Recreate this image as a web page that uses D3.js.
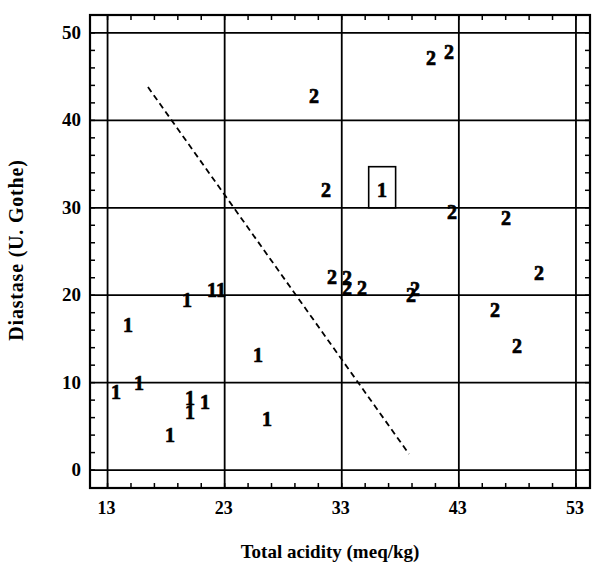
<!DOCTYPE html>
<html>
<head>
<meta charset="utf-8">
<script src="https://cdn.jsdelivr.net/npm/d3@7"></script>
<style>
  body { margin: 0; background: #fff; }
  text { font-family: "Liberation Serif", "DejaVu Serif", serif; font-weight: bold; fill: #000; }
</style>
</head>
<body>
<script>
var w = 594;
var h = 565;

// group 1 samples
var x1 = [14.75, 19.78, 21.92, 22.69, 25.85, 15.68, 13.72, 20.04, 20.04, 21.32, 18.33, 26.62, 36.44];
var y1 = [16.59, 19.45, 20.6, 20.6, 13.16, 9.96, 8.93, 8.24, 6.64, 7.79, 4.01, 5.84, 32.03];

// group 2 samples
var x2 = [30.63, 40.62, 42.16, 31.65, 42.41, 47.03, 49.84, 32.17, 33.45, 33.45, 34.73, 38.91, 39.25, 46.09, 47.97];
var y2 = [42.78, 47.13, 47.82, 32.03, 29.52, 28.83, 22.54, 22.08, 21.97, 20.83, 20.83, 20.02, 20.71, 18.31, 14.19];

// the boxed sample (x range, y range)
var boxX = [35.3, 37.6];
var boxY = [30.0, 34.7];

// dashed separating line
var lineX = [16.45, 38.74];
var lineY = [43.81, 1.84];

var xTicks = [13, 23, 33, 43, 53];
var yTicks = [0, 10, 20, 30, 40, 50];
var xMinor = d3.range(13, 54, 2);
var yMinor = d3.range(0, 52, 2);

var x = d3.scaleLinear().domain([11.5, 54.2]).range([90, 590]);
var y = d3.scaleLinear().domain([-2.05, 52.05]).range([488, 15]);

var svg = d3.select("body")
            .append("svg")
              .attr("width", w)
              .attr("height", h);

// grid lines
svg.selectAll("line.gx")
   .data(xTicks)
   .enter()
   .append("line")
     .attr("x1", function(d) { return x(d); })
     .attr("x2", function(d) { return x(d); })
     .attr("y1", y(-2.05))
     .attr("y2", y(52.05))
     .attr("stroke", "#000")
     .attr("stroke-width", 1.8);

svg.selectAll("line.gy")
   .data(yTicks)
   .enter()
   .append("line")
     .attr("x1", x(11.5))
     .attr("x2", x(54.2))
     .attr("y1", function(d) { return y(d); })
     .attr("y2", function(d) { return y(d); })
     .attr("stroke", "#000")
     .attr("stroke-width", 1.8);

// minor ticks, pointing inward on all four sides
var tl = 5;
xMinor.forEach(function(d) {
  svg.append("line").attr("x1", x(d)).attr("x2", x(d)).attr("y1", y(-2.05)).attr("y2", y(-2.05) - tl)
     .attr("stroke", "#000").attr("stroke-width", 1.5);
  svg.append("line").attr("x1", x(d)).attr("x2", x(d)).attr("y1", y(52.05)).attr("y2", y(52.05) + tl)
     .attr("stroke", "#000").attr("stroke-width", 1.5);
});
yMinor.forEach(function(d) {
  svg.append("line").attr("x1", x(11.5)).attr("x2", x(11.5) + tl).attr("y1", y(d)).attr("y2", y(d))
     .attr("stroke", "#000").attr("stroke-width", 1.5);
  svg.append("line").attr("x1", x(54.2)).attr("x2", x(54.2) - tl).attr("y1", y(d)).attr("y2", y(d))
     .attr("stroke", "#000").attr("stroke-width", 1.5);
});

// frame
svg.append("rect")
   .attr("x", x(11.5))
   .attr("y", y(52.05))
   .attr("width", x(54.2) - x(11.5))
   .attr("height", y(-2.05) - y(52.05))
   .attr("fill", "none")
   .attr("stroke", "#000")
   .attr("stroke-width", 2.2);

// tick labels
svg.selectAll("text.xl")
   .data(xTicks)
   .enter()
   .append("text")
     .text(function(d) { return d; })
     .attr("x", function(d) { return x(d) - 1; })
     .attr("y", 514)
     .attr("font-size", "18px")
     .attr("text-anchor", "middle");

svg.selectAll("text.yl")
   .data(yTicks)
   .enter()
   .append("text")
     .text(function(d) { return d; })
     .attr("x", 81)
     .attr("y", function(d) { return y(d) + 6; })
     .attr("font-size", "19px")
     .attr("text-anchor", "end");

// axis titles
svg.append("text")
   .text("Total acidity (meq/kg)")
   .attr("x", 330)
   .attr("y", 558)
   .attr("font-size", "19px")
   .attr("text-anchor", "middle");

svg.append("text")
   .text("Diastase (U. Gothe)")
   .attr("transform", "translate(23,250) rotate(-90)")
   .attr("font-size", "20px")
   .attr("letter-spacing", "0.8px")
   .attr("text-anchor", "middle");

// dashed line
svg.append("line")
   .attr("x1", x(lineX[0]))
   .attr("y1", y(lineY[0]))
   .attr("x2", x(lineX[1]))
   .attr("y2", y(lineY[1]))
   .attr("stroke", "#000")
   .attr("stroke-width", 1.8)
   .attr("stroke-dasharray", "6,4");

// box round the special sample
svg.append("rect")
   .attr("x", x(boxX[0]))
   .attr("y", y(boxY[1]))
   .attr("width", x(boxX[1]) - x(boxX[0]))
   .attr("height", y(boxY[0]) - y(boxY[1]))
   .attr("fill", "#fff")
   .attr("stroke", "#000")
   .attr("stroke-width", 1.6);

// the sample marks
function marks(xs, ys, label) {
  svg.selectAll(null)
     .data(xs)
     .enter()
     .append("text")
       .text(label)
       .attr("x", function(d) { return x(d); })
       .attr("y", function(d, i) { return y(ys[i]) + 7; })
       .attr("font-size", "20px")
       .attr("stroke", "#000")
       .attr("stroke-width", 0.7)
       .attr("text-anchor", "middle");
}
marks(x1, y1, "1");
marks(x2, y2, "2");
</script>
</body>
</html>
